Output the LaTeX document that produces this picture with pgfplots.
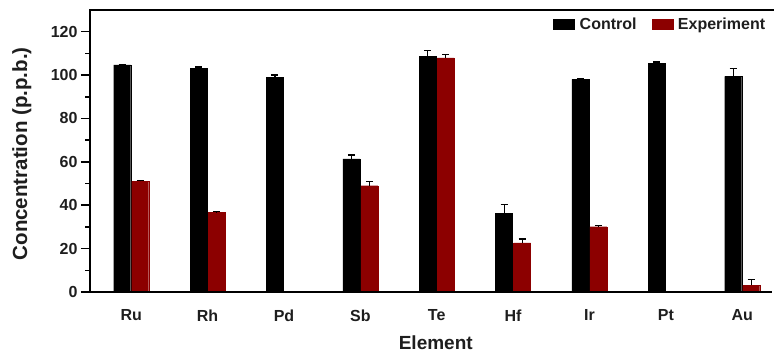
\documentclass[border=0pt]{standalone}
\usepackage{fontspec}
\setmainfont{Liberation Sans}
\usepackage{pgfplots}
\pgfplotsset{compat=1.18}
\definecolor{expred}{RGB}{140,0,0}
\definecolor{txt}{RGB}{30,30,30}
\begin{document}
\begin{tikzpicture}
\useasboundingbox (-90pt,-66pt) rectangle (684pt,292pt);
\begin{axis}[
  scale only axis, width=682pt, height=282pt,
  xmin=-0.54, xmax=8.39, ymin=0, ymax=130,
  clip=false,
  ybar=1pt, bar width=17pt,
  axis line style={draw=none},
  xtick={0,...,8}, xticklabels={Ru,Rh,Pd,Sb,Te,Hf,Ir,Pt,Au},
  x tick style={draw=none},
  xtick pos=bottom,
  ytick={0,20,...,120}, minor ytick={10,30,...,110},
  ytick pos=left, tick align=outside,
  major tick length=9pt, minor tick length=4.5pt,
  y tick style={line width=1.5pt, black},
  /pgf/number format/assume math mode=true,
  ticklabel style={font=\fontsize{16}{16}\selectfont\bfseries, text=txt},
  xticklabel style={yshift=-5pt},
  ylabel={Concentration (p.p.b.)},
  ylabel style={at={(axis description cs:-0.1000,0.49)}, anchor=center, font=\fontsize{20.5}{20.5}\selectfont\bfseries, text=txt},
  xlabel={Element},
  xlabel style={at={(axis description cs:0.507,-0.181)}, anchor=center, font=\fontsize{19}{19}\selectfont\bfseries, text=txt},
  legend style={at={(axis description cs:0.999,0.985)}, anchor=north east, draw=none, fill=none,
    font=\fontsize{16}{16}\selectfont\bfseries, text=txt, inner sep=1pt,
    nodes={inner xsep=5pt}},
  legend columns=2,
  legend image code/.code={\fill[#1] (0pt,-5pt) rectangle (21pt,5pt);},
  /tikz/every even column/.append style={column sep=10pt},
]
\addplot[fill=black, draw=black, error bars/.cd, y dir=plus, y explicit,
  error bar style={line width=1.2pt, black},
  error mark options={rotate=90, mark size=3.5pt, line width=1.2pt, black}]
  coordinates {
  (0,104.7) +- (0,0.3)
  (1,103.2) +- (0,0.5)
  (2,98.8) +- (0,1.2)
  (3,61.4) +- (0,1.8)
  (4,108.5) +- (0,3.0)
  (5,36.3) +- (0,4.0)
  (6,98.0) +- (0,0.4)
  (7,105.5) +- (0,0.5)
  (8,99.4) +- (0,3.8)
  };
\addlegendentry{Control}
\addplot[fill=expred, draw=expred, error bars/.cd, y dir=plus, y explicit,
  error bar style={line width=1.2pt, black},
  error mark options={rotate=90, mark size=3.5pt, line width=1.2pt, black}]
  coordinates {
  (0,51.0) +- (0,0.5)
  (1,36.6) +- (0,0.4)
  (3,49.0) +- (0,1.8)
  (4,107.9) +- (0,1.4)
  (5,22.6) +- (0,1.8)
  (6,30.1) +- (0,0.4)
  (8,3.0) +- (0,2.6)
  };
\addlegendentry{Experiment}
\draw[line width=1.6pt] ([xshift=-8pt]rel axis cs:0,0) -- (rel axis cs:1,0);
\draw[line width=1.6pt] (rel axis cs:0,0) -- (rel axis cs:0,1) -- ([xshift=2pt]rel axis cs:1,1);
\end{axis}
\end{tikzpicture}
\end{document}
